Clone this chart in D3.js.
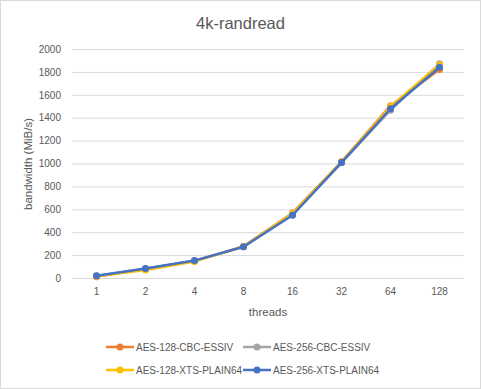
<!DOCTYPE html>
<html><head><meta charset="utf-8">
<script src="https://cdn.jsdelivr.net/npm/d3@7"></script>
<style>body{margin:0;background:#fff}text{font-family:"Liberation Sans",Arial,sans-serif}</style>
</head><body><svg id="c" width="481" height="389"></svg>
<script>
const categories = ["1","2","4","8","16","32","64","128"];
const seriesNames = ["AES-128-CBC-ESSIV","AES-256-CBC-ESSIV","AES-128-XTS-PLAIN64","AES-256-XTS-PLAIN64"];
const colors = ["#ED7D31","#A5A5A5","#FFC000","#4472C4"];
const aes128cbc = [12, 78, 150, 276, 568, 1015, 1505, 1822];
const aes256cbc = [18, 80, 148, 272, 560, 1008, 1465, 1872];
const aes128xts = [15, 70, 145, 274, 562, 1012, 1498, 1862];
const aes256xts = [20, 82, 152, 273, 548, 1008, 1478, 1840];
const yTicks = [0,200,400,600,800,1000,1200,1400,1600,1800,2000];
const series = [aes128cbc, aes256cbc, aes128xts, aes256xts];

const svg = d3.select("#c");
const txt = "#595959";
svg.append("rect").attr("x",0.5).attr("y",0.5).attr("width",480).attr("height",388)
  .attr("fill","#fff").attr("stroke","#d9d9d9");

const x = d3.scaleBand().domain(categories).range([72,464]);
const y = d3.scaleLinear().domain([0,2000]).range([278,49]);

svg.append("text").attr("x",240.5).attr("y",29).attr("text-anchor","middle")
  .attr("font-size",16.5).attr("fill",txt).text("4k-randread");

const yAxis = svg.append("g").attr("transform","translate(72,0)")
  .call(d3.axisLeft(y).tickValues(yTicks).tickFormat(d3.format("d")).tickSize(-392).tickPadding(11));
yAxis.select(".domain").remove();
yAxis.selectAll("line").attr("stroke","#d9d9d9");
yAxis.selectAll("text").attr("fill",txt).attr("font-size",10).style("font-family","Liberation Sans, Arial");

const xAxis = svg.append("g").attr("transform","translate(0,278)")
  .call(d3.axisBottom(x).tickSize(0).tickPadding(10));
xAxis.select(".domain").remove();
xAxis.selectAll("text").attr("fill",txt).attr("font-size",10).style("font-family","Liberation Sans, Arial");

svg.append("text").attr("transform","translate(32,164) rotate(-90)").attr("text-anchor","middle")
  .attr("font-size",11.5).attr("fill",txt).text("bandwidth (MiB/s)");
svg.append("text").attr("x",268).attr("y",316).attr("text-anchor","middle")
  .attr("font-size",11.5).attr("fill",txt).text("threads");

const line = d3.line().x((d,i)=>x(categories[i])+x.bandwidth()/2).y(d=>y(d));
series.forEach((s,k)=>{
  const g = svg.append("g");
  g.append("path").datum(s).attr("d",line).attr("fill","none")
    .attr("stroke",colors[k]).attr("stroke-width",2.5).attr("stroke-linejoin","round");
  g.selectAll("circle").data(s).join("circle")
    .attr("cx",(d,i)=>x(categories[i])+x.bandwidth()/2).attr("cy",d=>y(d))
    .attr("r",3.5).attr("fill",colors[k]);
});

seriesNames.forEach((n,k)=>{
  const col = k%2, row = Math.floor(k/2);
  const lx = col===0 ? 106 : 243;
  const ly = row===0 ? 347 : 370;
  const g = svg.append("g");
  g.append("line").attr("x1",lx).attr("x2",lx+28).attr("y1",ly).attr("y2",ly)
    .attr("stroke",colors[k]).attr("stroke-width",2.5);
  g.append("circle").attr("cx",lx+14).attr("cy",ly).attr("r",3.5).attr("fill",colors[k]);
  g.append("text").attr("x",lx+30).attr("y",ly+3.5).attr("font-size",10).attr("fill",txt).text(n);
});
</script></body></html>
